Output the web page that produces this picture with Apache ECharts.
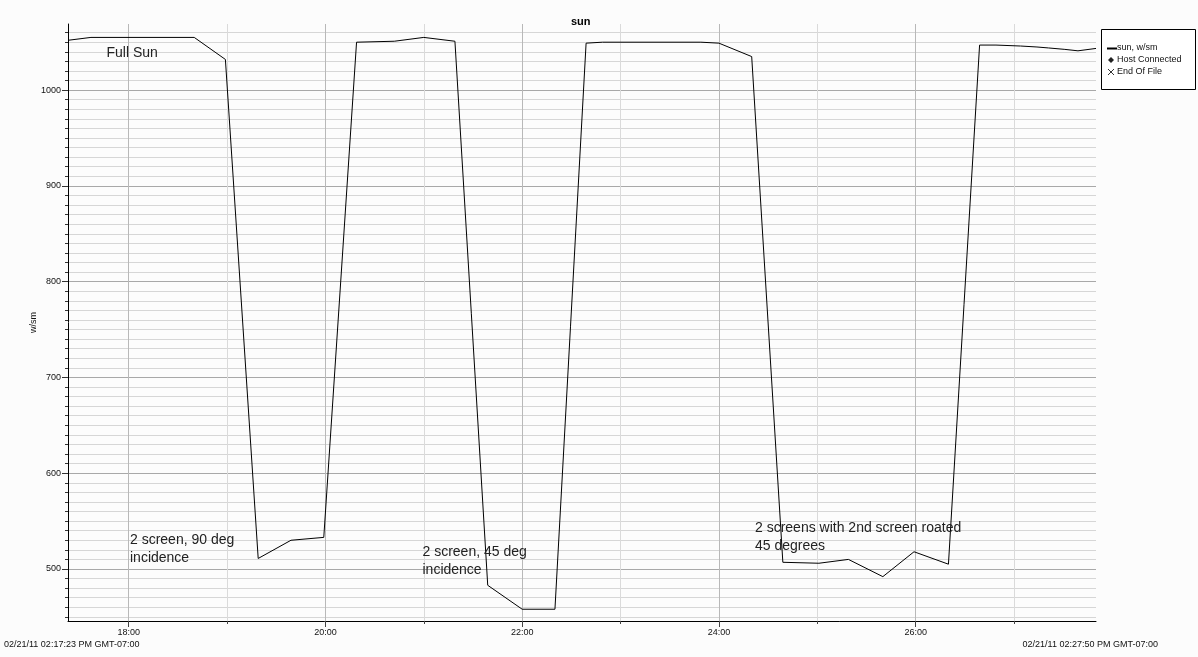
<!DOCTYPE html>
<html>
<head>
<meta charset="utf-8">
<script src="https://cdn.jsdelivr.net/npm/echarts@6/dist/echarts.min.js"></script>
<style>
html,body{margin:0;padding:0;background:#fcfcfc;}
#chart{width:1198px;height:657px;}
</style>
</head>
<body>
<div id="chart"></div>
<script>
// Time in seconds (minutes*60 + seconds) of the readings
const timeSec = [1043, 1057, 1120, 1139, 1159, 1179, 1199, 1219, 1242, 1260, 1279, 1299, 1320, 1340, 1359, 1369, 1429, 1440, 1460, 1479, 1501, 1519, 1540, 1559, 1580, 1599, 1609, 1624, 1634, 1641, 1651, 1659, 1670];
// sun, w/sm
const sunWsm = [1052, 1055, 1055, 1032, 511, 530, 533, 1050, 1051, 1055, 1051, 483, 458, 458, 1049, 1050, 1050, 1049, 1035, 507, 506, 510, 492, 518, 505, 1047, 1047, 1046, 1045, 1044, 1042.5, 1041, 1043.5];

const xMin = 1043, xMax = 1670;
const xMinuteTicks = [1080, 1140, 1200, 1260, 1320, 1380, 1440, 1500, 1560, 1620];
const xMajorTicks = [1080, 1200, 1320, 1440, 1560];
const xTickLabels = ['18:00', '20:00', '22:00', '24:00', '26:00'];

const yMin = 445.7, yMax = 1069;
const yMajorTicks = [500, 600, 700, 800, 900, 1000];
const yTickLabels = ['500', '600', '700', '800', '900', '1000'];
const yMinorTicks = [];
for (let v = 450; v <= 1060; v += 10) yMinorTicks.push(v);

const startStamp = '02/21/11 02:17:23 PM GMT-07:00';
const endStamp = '02/21/11 02:27:50 PM GMT-07:00';

const annotations = [
  {text: 'Full Sun', x: 106.5, y: 44.5},
  {text: '2 screen, 90 deg\nincidence', x: 130, y: 531},
  {text: '2 screen, 45 deg\nincidence', x: 422.5, y: 543},
  {text: '2 screens with 2nd screen roated\n45 degrees', x: 755, y: 519.5}
];

const FONT = '"Liberation Sans", Arial, sans-serif';
const chart = echarts.init(document.getElementById('chart'), null, {renderer: 'canvas'});

const seriesData = timeSec.map((t, i) => [t, sunWsm[i]]);

const option = {
  backgroundColor: '#fcfcfc',
  animation: false,
  title: {
    text: 'sun', left: 566, top: 11,
    textStyle: {fontFamily: FONT, fontSize: 11, fontWeight: 'bold', color: '#000'}
  },
  grid: {left: 68, right: 102, top: 24, bottom: 36, containLabel: false, outerBoundsMode: 'none'},
  xAxis: [
    {
      type: 'value', min: xMin, max: xMax, position: 'bottom',
      axisLine: {show: true, onZero: false, lineStyle: {color: '#000', width: 1}},
      axisTick: {show: true, customValues: xMinuteTicks, length: 3, lineStyle: {color: '#444'}},
      axisLabel: {
        show: true, customValues: xMajorTicks, margin: 7,
        formatter: v => xTickLabels[xMajorTicks.indexOf(v)] || '',
        fontFamily: FONT, fontSize: 9, color: '#111'
      },
      splitLine: {show: true, lineStyle: {color: '#dadada', width: 1}}
    },
    {
      type: 'value', min: xMin, max: xMax, position: 'bottom', offset: 0,
      axisLine: {show: false},
      axisTick: {show: true, customValues: xMajorTicks, length: 6, lineStyle: {color: '#444'}},
      axisLabel: {show: false},
      splitLine: {show: true, lineStyle: {color: '#b8b8b8', width: 1}}
    }
  ],
  yAxis: [
    {
      type: 'value', min: yMin, max: yMax, position: 'left',
      name: 'w/sm', nameLocation: 'middle', nameGap: 30, nameRotate: 90, nameMoveOverlap: false,
      nameTextStyle: {fontFamily: FONT, fontSize: 9, color: '#111'},
      axisLine: {show: true, onZero: false, lineStyle: {color: '#000', width: 1}},
      axisTick: {show: true, customValues: yMinorTicks, length: 3, lineStyle: {color: '#333'}},
      axisLabel: {
        show: true, customValues: yMajorTicks, margin: 7,
        formatter: v => yTickLabels[yMajorTicks.indexOf(v)] || '',
        fontFamily: FONT, fontSize: 9, color: '#111'
      },
      splitLine: {show: true, lineStyle: {color: '#d6d6d6', width: 1}}
    },
    {
      type: 'value', min: yMin, max: yMax, position: 'left', offset: 0,
      axisLine: {show: false},
      axisTick: {show: true, customValues: yMajorTicks, length: 6, lineStyle: {color: '#333'}},
      axisLabel: {show: false},
      splitLine: {show: true, lineStyle: {color: '#a8a8a8', width: 1}}
    }
  ],
  series: [
    {
      name: 'sun, w/sm', type: 'line', xAxisIndex: 0, yAxisIndex: 0,
      data: seriesData, showSymbol: false, symbol: 'none',
      lineStyle: {color: '#000', width: 1}, z: 5
    }
  ],
  graphic: [
    ...annotations.map(a => ({
      type: 'text', left: a.x, top: a.y, z: 10,
      style: {text: a.text, font: '14px ' + FONT, fill: '#222', lineHeight: 18}
    })),
    {type: 'text', left: 4, top: 640, style: {text: startStamp, font: '9px ' + FONT, fill: '#111'}},
    {type: 'text', right: 40, top: 640, style: {text: endStamp, font: '9px ' + FONT, fill: '#111'}},
    {
      type: 'group', left: 1101, top: 29,
      children: [
        {type: 'rect', shape: {x: 0.5, y: 0.5, width: 94, height: 60}, style: {fill: '#ffffff', stroke: '#000', lineWidth: 1}},
        {type: 'line', shape: {x1: 6, y1: 19.5, x2: 16, y2: 19.5}, style: {stroke: '#000', lineWidth: 2}},
        {type: 'text', style: {text: 'sun, w/sm', x: 16, y: 14, font: '9px ' + FONT, fill: '#111'}},
        {type: 'polygon', shape: {points: [[10, 28], [13, 31], [10, 34], [7, 31]]}, style: {fill: '#222'}},
        {type: 'text', style: {text: 'Host Connected', x: 16, y: 26, font: '9px ' + FONT, fill: '#111'}},
        {type: 'line', shape: {x1: 7, y1: 40, x2: 13, y2: 46}, style: {stroke: '#333', lineWidth: 1}},
        {type: 'line', shape: {x1: 13, y1: 40, x2: 7, y2: 46}, style: {stroke: '#333', lineWidth: 1}},
        {type: 'text', style: {text: 'End Of File', x: 16, y: 38, font: '9px ' + FONT, fill: '#111'}}
      ]
    }
  ]
};
chart.setOption(option);
</script>
</body>
</html>
